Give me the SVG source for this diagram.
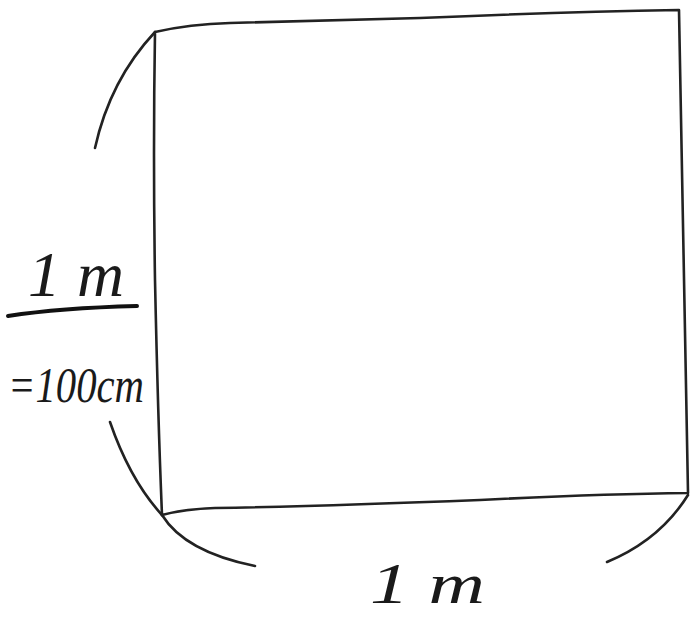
<svg xmlns="http://www.w3.org/2000/svg" width="691" height="618" viewBox="0 0 691 618">
<style>
.ln{fill:none;stroke:#222;stroke-width:2.6;stroke-linecap:round;stroke-linejoin:round}
.lbl{font-family:"Liberation Serif",serif;font-style:italic;fill:#1a1a1a}
</style>
<rect width="691" height="618" fill="#fff"/>
<g id="square">
<path class="ln" d="M155,32 Q190,24 230,23 L420,18 Q560,12 679,10 Q683,250 688,493 Q600,494 480,500 Q330,506 215,508 Q185,509 162,515 Q158,420 155,280 Q153,150 155,32 Z"/>
</g>
<g id="connectors">
<path class="ln" d="M155,32 Q110,80 95,148"/>
<path class="ln" d="M110,422 Q130,480 162,515"/>
<path class="ln" d="M162,515 Q185,552 255,566"/>
<path class="ln" d="M688,495 Q660,540 607,562"/>
<path d="M8,316 Q60,308 137,306" fill="none" stroke="#111" stroke-width="4" stroke-linecap="round"/>
</g>
<g id="label-left">
<text class="lbl" x="28" y="296" font-size="64" textLength="96" lengthAdjust="spacingAndGlyphs">1 m</text>
<text class="lbl" x="8" y="402" font-size="50" textLength="136" lengthAdjust="spacingAndGlyphs">=100cm</text>
</g>
<g id="label-bottom">
<text class="lbl" x="370" y="603" font-size="56" textLength="115" lengthAdjust="spacingAndGlyphs">1 m</text>
</g>
</svg>
